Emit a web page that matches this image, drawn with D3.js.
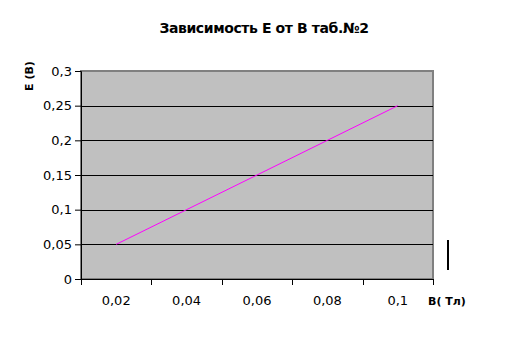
<!DOCTYPE html>
<html lang="ru">
<head>
  <meta charset="UTF-8" />
  <title>Зависимость Е от В</title>
  <script src="https://d3js.org/d3.v7.min.js"></script>
  <style>
    body { margin: 0; background: #fff; }
    svg { display: block; font-family: "DejaVu Sans", sans-serif; }
  </style>
</head>
<body>
  <svg id="chart"></svg>
  <script>
    const categories = ["0,02", "0,04", "0,06", "0,08", "0,1"];
    const eValues = [0.05, 0.1, 0.15, 0.2, 0.25];
    const yTicks = [0, 0.05, 0.1, 0.15, 0.2, 0.25, 0.3];

    const W = 526, H = 353;
    const plot = { left: 81, right: 433, top: 71, bottom: 279 };

    const svg = d3.select("#chart").attr("width", W).attr("height", H);

    const x = d3.scaleBand().domain(categories).range([plot.left, plot.right]);
    const y = d3.scaleLinear().domain([0, 0.3]).range([plot.bottom, plot.top]);
    const fmt = d => String(+d.toFixed(2)).replace(".", ",");

    // plot area
    svg.append("rect")
      .attr("x", plot.left).attr("y", plot.top)
      .attr("width", plot.right - plot.left).attr("height", plot.bottom - plot.top)
      .attr("fill", "#c0c0c0").attr("stroke", "#808080").attr("stroke-width", 2);

    // gridlines
    svg.append("g").selectAll("line")
      .data(yTicks.slice(1, -1))
      .join("line")
        .attr("x1", plot.left).attr("x2", plot.right)
        .attr("y1", d => Math.round(y(d)) + 0.5).attr("y2", d => Math.round(y(d)) + 0.5)
        .attr("stroke", "#000");

    // y axis
    const yAxis = svg.append("g")
      .attr("transform", `translate(${plot.left},0)`)
      .call(d3.axisLeft(y).tickValues(yTicks).tickSize(6).tickPadding(3).tickFormat(fmt));
    yAxis.select(".domain").attr("stroke", "#000");
    yAxis.selectAll("text")
      .attr("font-family", "DejaVu Sans, sans-serif")
      .attr("font-size", 13)
      .attr("fill", "#000");

    // x axis: ticks at category boundaries
    const xAxis = svg.append("g")
      .attr("transform", `translate(0,${plot.bottom})`);
    xAxis.append("line")
      .attr("x1", plot.left).attr("x2", plot.right)
      .attr("y1", 0.5).attr("y2", 0.5).attr("stroke", "#000");
    const bounds = categories.map(c => x(c)).concat([x(categories[categories.length - 1]) + x.bandwidth()]);
    xAxis.selectAll(".xtick").data(bounds).join("line")
      .attr("class", "xtick")
      .attr("x1", d => Math.round(d) + 0.5).attr("x2", d => Math.round(d) + 0.5)
      .attr("y1", 0).attr("y2", 6).attr("stroke", "#000");
    xAxis.selectAll(".xlab").data(categories).join("text")
      .attr("font-size", 13)
      .attr("x", d => x(d) + x.bandwidth() / 2)
      .attr("y", 26)
      .attr("text-anchor", "middle")
      .text(d => d);

    // line
    const line = d3.line()
      .x((d, i) => x(categories[i]) + x.bandwidth() / 2)
      .y(d => y(d));
    svg.append("path")
      .datum(eValues)
      .attr("d", line)
      .attr("fill", "none")
      .attr("stroke", "#ff00ff")
      .attr("stroke-width", 1);

    // title
    svg.append("text")
      .attr("x", 264).attr("y", 33)
      .attr("text-anchor", "middle")
      .attr("font-size", 14).attr("font-weight", "bold")
      .attr("letter-spacing", -0.4)
      .text("Зависимость Е от В таб.№2");

    // axis titles
    svg.append("text")
      .attr("transform", "rotate(-90)")
      .attr("x", -76).attr("y", 33)
      .attr("text-anchor", "middle")
      .attr("font-size", 11).attr("font-weight", "bold")
      .text("Е (В)");

    svg.append("text")
      .attr("x", 428).attr("y", 305)
      .attr("font-size", 11).attr("font-weight", "bold")
      .text("В( Тл)");

    // legend marker (empty series name)
    svg.append("rect")
      .attr("x", 447).attr("y", 240)
      .attr("width", 2).attr("height", 30)
      .attr("fill", "#000");
  </script>
</body>
</html>
